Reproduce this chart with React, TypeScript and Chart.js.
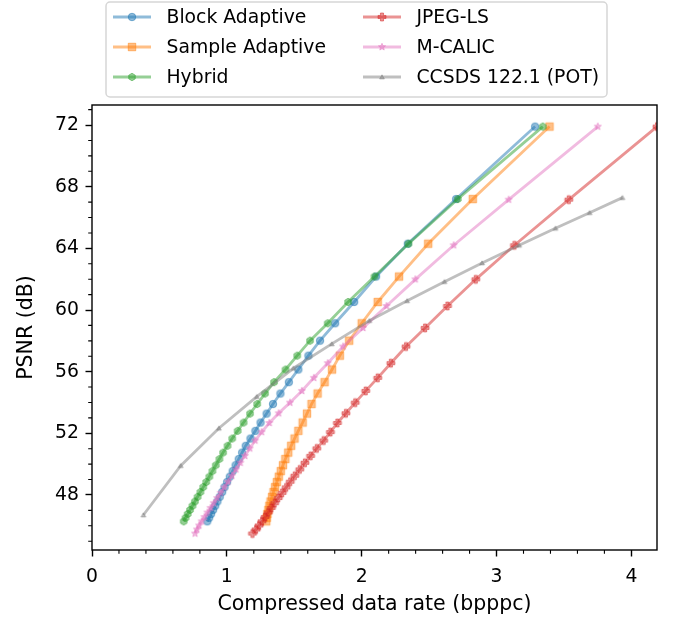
import React, { useEffect, useRef } from 'react';
import { Chart, registerables } from 'chart.js';

Chart.register(...registerables);

// ---------- data ----------
const seriesNames = ['Block Adaptive', 'Sample Adaptive', 'Hybrid', 'JPEG-LS', 'M-CALIC', 'CCSDS 122.1 (POT)'];

// PSNR levels shared by the adaptive / hybrid predictors
const psnrAdaptive = [71.9, 67.2, 64.3, 62.17, 60.52, 59.14, 58.01, 57.04, 56.14, 55.32, 54.58, 53.9, 53.28, 52.7, 52.16, 51.66, 51.19, 50.75, 50.33, 49.93, 49.55, 49.19, 48.84, 48.51, 48.19, 47.88, 47.58, 47.3, 47.03, 46.77, 46.52, 46.29];
const blockRate = [3.286, 2.7, 2.342, 2.107, 1.944, 1.803, 1.691, 1.605, 1.53, 1.46, 1.397, 1.342, 1.295, 1.25, 1.212, 1.175, 1.14, 1.113, 1.088, 1.065, 1.043, 1.022, 1.002, 0.983, 0.965, 0.947, 0.93, 0.914, 0.898, 0.883, 0.869, 0.855];
const sampleRate = [3.393, 2.824, 2.493, 2.277, 2.119, 2.0, 1.907, 1.838, 1.78, 1.725, 1.673, 1.628, 1.594, 1.562, 1.53, 1.502, 1.477, 1.455, 1.434, 1.416, 1.4, 1.385, 1.371, 1.358, 1.346, 1.335, 1.324, 1.315, 1.308, 1.301, 1.296, 1.292];
const hybridRate = [3.343, 2.713, 2.347, 2.095, 1.899, 1.748, 1.617, 1.522, 1.435, 1.35, 1.283, 1.225, 1.172, 1.124, 1.08, 1.04, 1.005, 0.972, 0.945, 0.918, 0.893, 0.87, 0.847, 0.825, 0.804, 0.783, 0.763, 0.745, 0.727, 0.71, 0.694, 0.68];

// PSNR levels shared by JPEG-LS and M-CALIC
const psnrNearLossless = [71.9, 67.16, 64.2, 61.99, 60.26, 58.84, 57.63, 56.55, 55.6, 54.75, 53.99, 53.3, 52.67, 52.08, 51.53, 51.02, 50.54, 50.09, 49.66, 49.25, 48.86, 48.49, 48.14, 47.8, 47.47, 47.16, 46.86, 46.57, 46.29, 46.02, 45.76, 45.5];
const jpeglsRate = [4.19, 3.536, 3.133, 2.846, 2.636, 2.47, 2.329, 2.216, 2.119, 2.03, 1.952, 1.883, 1.82, 1.768, 1.718, 1.667, 1.621, 1.579, 1.541, 1.504, 1.47, 1.44, 1.41, 1.381, 1.354, 1.33, 1.307, 1.284, 1.261, 1.239, 1.217, 1.19];
const mcalicRate = [3.751, 3.09, 2.682, 2.398, 2.184, 2.01, 1.862, 1.748, 1.645, 1.556, 1.468, 1.384, 1.315, 1.258, 1.21, 1.17, 1.134, 1.1, 1.068, 1.038, 1.009, 0.981, 0.954, 0.928, 0.903, 0.879, 0.856, 0.834, 0.813, 0.794, 0.778, 0.764];

const ccsdsRate = [0.381, 0.658, 0.941, 1.222, 1.494, 1.778, 2.057, 2.337, 2.614, 2.893, 3.168, 3.437, 3.69, 3.934];
const ccsdsPsnr = [46.7, 49.9, 52.33, 54.38, 56.22, 57.8, 59.31, 60.6, 61.84, 63.05, 64.2, 65.3, 66.31, 67.29];

const xTickValues = [0, 1, 2, 3, 4];
const yTickValues = [48, 52, 56, 60, 64, 68, 72];
const xLimits = [0, 4.19];
const yLimits = [44.43, 73.3];

const xTitle = 'Compressed data rate (bpppc)';
const yTitle = 'PSNR (dB)';

// ---------- styling ----------
const FONT = '"DejaVu Sans", "Liberation Sans", sans-serif';
const FS = 18.8;
const TITLE_FS = 20.5;
const colors = ['31,119,180', '255,127,14', '44,160,44', '214,39,40', '227,119,194', '127,127,127'];
const shapes = ['circle', 'square', 'hexagon', 'plus', 'star', 'triangle'];
const shapeSizes = [7.5, 7.5, 7.5, 8, 7.5, 5.5];

function makeMarker(shape: string, rgb: string, size: number): HTMLCanvasElement {
  const pad = 2;
  const dim = Math.ceil(size + pad * 2);
  const c = document.createElement('canvas');
  c.width = dim;
  c.height = dim;
  const g = c.getContext('2d') as CanvasRenderingContext2D;
  const cx = dim / 2;
  const cy = dim / 2;
  const r = size / 2;
  g.beginPath();
  if (shape === 'circle') {
    g.arc(cx, cy, r, 0, Math.PI * 2);
  } else if (shape === 'square') {
    g.rect(cx - r, cy - r, 2 * r, 2 * r);
  } else if (shape === 'hexagon') {
    for (let i = 0; i < 6; i++) {
      const a = Math.PI / 2 + (i * Math.PI) / 3;
      const px = cx + r * Math.cos(a);
      const py = cy - r * Math.sin(a);
      if (i === 0) g.moveTo(px, py); else g.lineTo(px, py);
    }
  } else if (shape === 'plus') {
    const t = r / 2.6;
    const pts = [
      [-t, -r], [t, -r], [t, -t], [r, -t], [r, t], [t, t],
      [t, r], [-t, r], [-t, t], [-r, t], [-r, -t], [-t, -t],
    ];
    pts.forEach((p, i) => (i === 0 ? g.moveTo(cx + p[0], cy + p[1]) : g.lineTo(cx + p[0], cy + p[1])));
  } else if (shape === 'star') {
    for (let i = 0; i < 10; i++) {
      const rr = i % 2 === 0 ? r : r * 0.45;
      const a = Math.PI / 2 + (i * Math.PI) / 5;
      const px = cx + rr * Math.cos(a);
      const py = cy - rr * Math.sin(a);
      if (i === 0) g.moveTo(px, py); else g.lineTo(px, py);
    }
  } else if (shape === 'triangle') {
    for (let i = 0; i < 3; i++) {
      const a = Math.PI / 2 + (i * 2 * Math.PI) / 3;
      const px = cx + r * Math.cos(a);
      const py = cy - r * Math.sin(a) + r * 0.2;
      if (i === 0) g.moveTo(px, py); else g.lineTo(px, py);
    }
  }
  g.closePath();
  g.fillStyle = `rgba(${rgb},0.5)`;
  g.fill();
  g.lineWidth = 1;
  g.strokeStyle = `rgba(${rgb},0.5)`;
  g.stroke();
  return c;
}

export default function App() {
  const canvasRef = useRef<HTMLCanvasElement | null>(null);

  useEffect(() => {
    const canvas = canvasRef.current;
    if (!canvas) return;

    const xs = [blockRate, sampleRate, hybridRate, jpeglsRate, mcalicRate, ccsdsRate];
    const ys = [psnrAdaptive, psnrAdaptive, psnrAdaptive, psnrNearLossless, psnrNearLossless, ccsdsPsnr];
    const markers = shapes.map((s, i) => makeMarker(s, colors[i], shapeSizes[i]));

    const datasets = seriesNames.map((name, i) => ({
      label: name,
      data: xs[i].map((x, j) => ({ x, y: ys[i][j] })),
      showLine: true,
      borderColor: `rgba(${colors[i]},0.5)`,
      backgroundColor: `rgba(${colors[i]},0.5)`,
      borderWidth: 2.8,
      pointStyle: markers[i] as any,
      pointRadius: 3,
      pointHoverRadius: 3,
      tension: 0,
      fill: false,
      order: 10 - i,
    }));

    const framePlugin = {
      id: 'frameAndLegend',
      afterDraw(chart: any) {
        const { ctx, chartArea: a, scales } = chart;
        const sx = scales.x;
        const sy = scales.y;
        ctx.save();
        // minor ticks
        ctx.strokeStyle = '#000';
        ctx.lineWidth = 1.1;
        ctx.beginPath();
        for (let i = 1; i / 5 <= xLimits[1]; i++) {
          if (i % 5 === 0) continue;
          const px = sx.getPixelForValue(i / 5);
          ctx.moveTo(px, a.bottom);
          ctx.lineTo(px, a.bottom + 3.8);
        }
        for (let v = Math.ceil(yLimits[0]); v <= yLimits[1]; v++) {
          if (v % 4 === 0) continue;
          const py = sy.getPixelForValue(v);
          ctx.moveTo(a.left, py);
          ctx.lineTo(a.left - 3.8, py);
        }
        ctx.stroke();
        // frame
        ctx.lineWidth = 1.4;
        ctx.strokeRect(a.left, a.top, a.right - a.left, a.bottom - a.top);

        // legend
        const bx = 106, by = 2, bw = 501, bh = 95, rad = 4;
        ctx.beginPath();
        ctx.moveTo(bx + rad, by);
        ctx.arcTo(bx + bw, by, bx + bw, by + bh, rad);
        ctx.arcTo(bx + bw, by + bh, bx, by + bh, rad);
        ctx.arcTo(bx, by + bh, bx, by, rad);
        ctx.arcTo(bx, by, bx + bw, by, rad);
        ctx.closePath();
        ctx.fillStyle = 'rgba(255,255,255,0.8)';
        ctx.fill();
        ctx.strokeStyle = 'rgba(204,204,204,0.8)';
        ctx.lineWidth = 1.5;
        ctx.stroke();

        const colX = [113, 363];
        const rowY = [17, 47, 77];
        ctx.font = `${FS}px ${FONT}`;
        ctx.textBaseline = 'middle';
        ctx.textAlign = 'left';
        seriesNames.forEach((name, i) => {
          const col = Math.floor(i / 3);
          const row = i % 3;
          const x0 = colX[col];
          const y0 = rowY[row];
          ctx.beginPath();
          ctx.strokeStyle = `rgba(${colors[i]},0.5)`;
          ctx.lineWidth = 2.8;
          ctx.moveTo(x0, y0);
          ctx.lineTo(x0 + 38, y0);
          ctx.stroke();
          const m = markers[i];
          ctx.drawImage(m, x0 + 19 - m.width / 2, y0 - m.height / 2);
          ctx.fillStyle = '#000';
          ctx.fillText(name, x0 + 53.5, y0 + 1);
        });
        ctx.restore();
      },
    };

    const chart = new Chart(canvas, {
      type: 'scatter',
      data: { datasets: datasets as any },
      options: {
        animation: false,
        responsive: false,
        maintainAspectRatio: false,
        events: [],
        layout: { padding: { left: 0, right: 21, top: 105, bottom: 0 } },
        plugins: {
          legend: { display: false },
          tooltip: { enabled: false },
        },
        scales: {
          x: {
            type: 'linear',
            min: xLimits[0],
            max: xLimits[1],
            afterFit: (s: any) => { s.height = 74; },
            afterBuildTicks: (s: any) => { s.ticks = xTickValues.map((v) => ({ value: v })); },
            ticks: {
              color: '#000',
              font: { family: FONT, size: FS },
              padding: 9,
              maxRotation: 0,
              autoSkip: false,
              callback: (v: any) => String(v),
            },
            grid: { drawOnChartArea: false, drawTicks: true, tickLength: 6.5, tickWidth: 1.4, tickColor: '#000', color: '#000' },
            border: { display: false },
            title: {
              display: true,
              text: xTitle,
              color: '#000',
              font: { family: FONT, size: TITLE_FS },
              padding: { top: 0, bottom: 7.5 },
            },
          },
          y: {
            type: 'linear',
            min: yLimits[0],
            max: yLimits[1],
            afterFit: (s: any) => { s.width = 92; },
            afterBuildTicks: (s: any) => { s.ticks = yTickValues.map((v) => ({ value: v })); },
            ticks: {
              color: '#000',
              font: { family: FONT, size: FS },
              padding: 6.5,
              autoSkip: false,
              callback: (v: any) => String(v),
            },
            grid: { drawOnChartArea: false, drawTicks: true, tickLength: 6.5, tickWidth: 1.4, tickColor: '#000', color: '#000' },
            border: { display: false },
            title: {
              display: true,
              text: yTitle,
              color: '#000',
              font: { family: FONT, size: TITLE_FS },
              padding: { top: 14, bottom: 0 },
            },
          },
        },
      },
      plugins: [framePlugin],
    });

    return () => chart.destroy();
  }, []);

  return (
    <div style={{ position: 'absolute', left: 0, top: 0, width: 678, height: 624, background: '#fff' }}>
      <canvas ref={canvasRef} width={678} height={624} style={{ display: 'block' }} />
    </div>
  );
}
